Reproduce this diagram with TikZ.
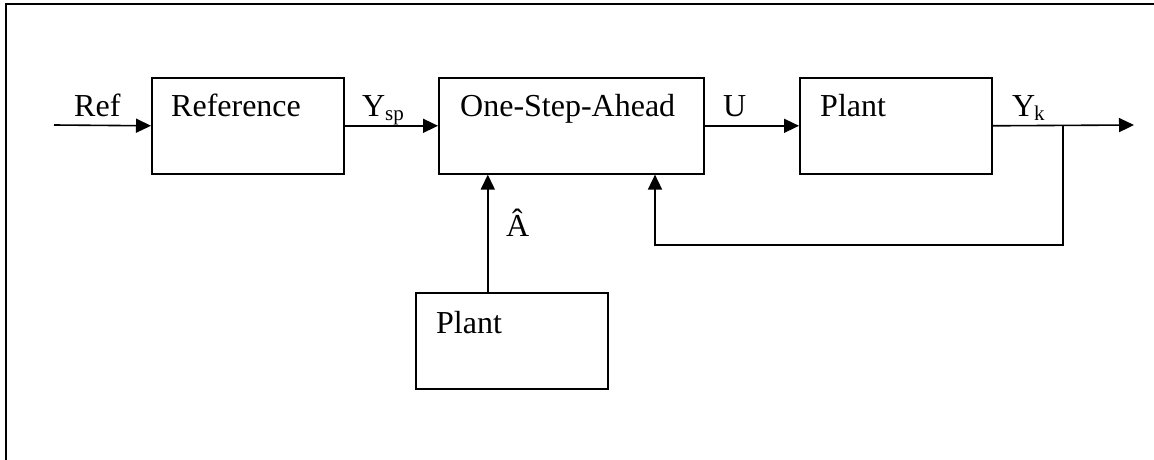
\documentclass[tikz,border=0pt]{standalone}
\usepackage{fontspec}
\setmainfont{Liberation Serif}
\usetikzlibrary{arrows.meta}
\begin{document}
\begin{tikzpicture}[x=1pt,y=-1pt,
  box/.style={draw, line width=1.6pt, minimum width=192pt, minimum height=96pt, inner sep=0pt, anchor=north west},
  wide/.style={box, minimum width=265pt},
  lbl/.style={inner sep=0pt, anchor=base west, font=\fontsize{32}{38}\selectfont},
  sub/.style={inner sep=0pt, anchor=base west, font=\fontsize{21}{24}\selectfont},
  arr/.style={line width=1.6pt, -{Triangle[length=15pt,width=14pt]}},
  ln/.style={line width=1.6pt}]
\useasboundingbox (0,0) rectangle (1154,460);
\draw[line width=2.2pt] (6,460) -- (6,4) -- (1154,4);
% boxes
\node[box] (ref) at (151,77) {};
\node[wide] (osa) at (438,77) {};
\node[box] (plant) at (799,77) {};
\node[box] (plant2) at (415,292) {};
% texts
\node[lbl] (tref) at (74,117) {Ref};
\node[lbl] (treference) at (171,117) {Reference};
\node[lbl] (ty) at (362,117) {Y};
\node[sub] (tsp) at (385,121) {sp};
\node[lbl] (tosa) at (460,117) {One-Step-Ahead};
\node[lbl] (tu) at (723,117) {U};
\node[lbl] (tplant) at (820,117) {Plant};
\node[lbl] (tyk) at (1012,117) {Y};
\node[sub] (tk) at (1034,121) {k};
\node[lbl] (tahat) at (506,236) {Â};
\node[lbl] (tplant2) at (436,333) {Plant};
% connectors
\coordinate (in) at (54,125);
\coordinate (out) at (1134,125);
\coordinate (branch) at (1063,125);
\coordinate (fb) at (655,245);
\draw[arr] (in) -- (ref.west);
\draw[arr] (ref.east) -- (osa.west);
\draw[arr] (osa.east) -- (plant.west);
\draw[arr] (plant.east) -- (out);
\draw[arr] (branch) |- (fb) -- (fb |- osa.south);
\draw[arr] ([xshift=-24pt]plant2.north) -- ([xshift=-24pt]plant2.north |- osa.south);
\end{tikzpicture}
\end{document}
